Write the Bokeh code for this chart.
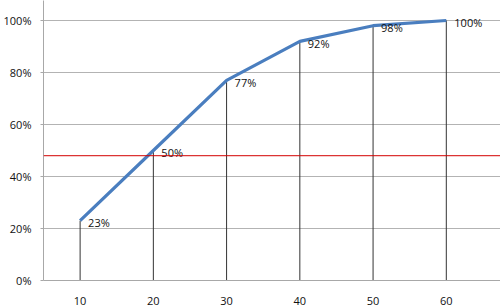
from bokeh.plotting import figure
from bokeh.models import ColumnDataSource, Span, FixedTicker, Range1d
from bokeh.embed import file_html
from bokeh.resources import INLINE
from bokeh.core.properties import value

categories = [10, 20, 30, 40, 50, 60]
percent = [23, 50, 77, 92, 98, 100]
labels = ["23%", "50%", "77%", "92%", "98%", "100%"]
y_ticks = [0, 20, 40, 60, 80, 100]
y_tick_labels = ["0%", "20%", "40%", "60%", "80%", "100%"]
threshold = 48

FONT = "Open Sans"

p = figure(width=500, height=308, output_backend="svg", toolbar_location=None,
           x_range=Range1d(5, 67.4), y_range=Range1d(0, 107.7),
           min_border_left=41, min_border_right=0, min_border_top=0, min_border_bottom=28)
p.outline_line_color = None
p.background_fill_color = "white"
p.border_fill_color = "white"

src = ColumnDataSource(dict(x=categories, y=percent, zero=[0] * len(categories), t=labels))

# drop lines
p.segment(x0="x", y0="zero", x1="x", y1="y", source=src, line_color="#333333", line_width=1)
# threshold line
p.add_layout(Span(location=threshold, dimension="width", line_color="#d40000", line_width=1))
# main line
p.line("x", "y", source=src, line_color="#4a7ebf", line_width=3.2)
# labels
p.text("x", "y", text="t", source=src, x_offset=8, y_offset=2,
       text_font=value(FONT), text_font_size="11px", text_color="#111111",
       text_baseline="middle", text_align="left")

# axes
p.xaxis.ticker = FixedTicker(ticks=categories)
p.xaxis.major_tick_line_color = None
p.xaxis.minor_tick_line_color = None
p.xaxis.axis_line_color = "#a8a8a8"
p.xaxis.major_label_standoff = 10
p.xaxis.major_label_text_font = FONT
p.xaxis.major_label_text_font_size = "11px"
p.xaxis.major_label_text_color = "#111111"

p.yaxis.ticker = FixedTicker(ticks=y_ticks)
p.yaxis.major_label_overrides = {t: l for t, l in zip(y_ticks, y_tick_labels)}
p.yaxis.major_tick_in = 0
p.yaxis.major_tick_out = 3
p.yaxis.major_tick_line_color = "#a8a8a8"
p.yaxis.minor_tick_line_color = None
p.yaxis.axis_line_color = "#a8a8a8"
p.yaxis.major_label_standoff = 9
p.yaxis.major_label_text_font = FONT
p.yaxis.major_label_text_font_size = "11px"
p.yaxis.major_label_text_color = "#111111"

p.xgrid.grid_line_color = None
p.ygrid.grid_line_color = "#b3b3b3"
p.ygrid.grid_line_width = 1

open("out.html", "w").write(file_html(p, INLINE))
